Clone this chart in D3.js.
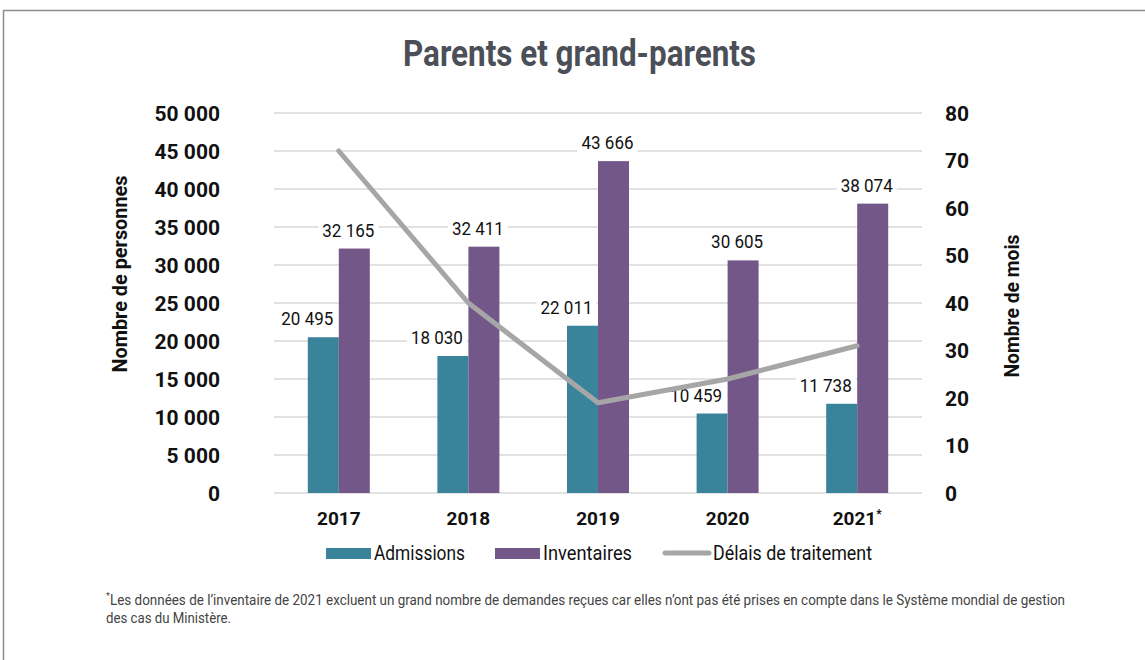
<!DOCTYPE html>
<html>
<head>
<meta charset="utf-8">
<script src="https://cdn.jsdelivr.net/npm/d3@7"></script>
<style>
  body { margin: 0; background: #fff; }
  svg text { font-family: Roboto, "Liberation Sans", sans-serif; }
</style>
</head>
<body>
<div id="chart"></div>
<script>
// Data
var years       = ['2017', '2018', '2019', '2020', '2021'];
var admissions  = [20495, 18030, 22011, 10459, 11738];
var inventaires = [32165, 32411, 43666, 30605, 38074];
var delais      = [72, 40, 19, 24, 31];
var left_ticks  = [0, 5000, 10000, 15000, 20000, 25000, 30000, 35000, 40000, 45000, 50000];
var right_ticks = [0, 10, 20, 30, 40, 50, 60, 70, 80];

var width = 1145, height = 660;
var teal = '#3a849b', purple = '#735789', grey = '#a6a6a6';

var svg = d3.select('#chart')
    .append('svg')
    .attr('width', width)
    .attr('height', height);

// frame
svg.append('rect')
    .attr('x', 3.5).attr('y', 10.5)
    .attr('width', width + 10).attr('height', height + 10)
    .attr('fill', 'none')
    .attr('stroke', '#8c8c8c')
    .attr('stroke-width', 1.5);

svg.append('text')
    .attr('x', 403).attr('y', 66)
    .attr('font-size', 37).attr('font-weight', 'bold')
    .attr('fill', '#4b4f57')
    .attr('textLength', 353).attr('lengthAdjust', 'spacingAndGlyphs')
    .text('Parents et grand-parents');

var x = d3.scaleBand().domain(years).range([274, 922]);
var y = d3.scaleLinear().domain([0, 50000]).range([493, 113]);
var y2 = d3.scaleLinear().domain([0, 80]).range([493, 113]);
var sub = d3.scaleBand().domain(['a', 'i']).range([0, 62]);

var fmt = function(v){ return d3.format(',')(v).replace(/,/g, ' '); };

// gridlines
svg.append('g').selectAll('line')
    .data(left_ticks)
    .enter().append('line')
    .attr('x1', 274).attr('x2', 922)
    .attr('y1', function(d){ return y(d); })
    .attr('y2', function(d){ return y(d); })
    .attr('stroke', '#d9d9d9')
    .attr('stroke-width', 1.5);

// left axis
var left_axis = svg.append('g')
    .attr('transform', 'translate(220,0)')
    .call(d3.axisLeft(y).tickValues(left_ticks).tickSize(0).tickPadding(0).tickFormat(fmt));
left_axis.select('.domain').remove();
left_axis.selectAll('text')
    .attr('font-size', 21).attr('font-weight', 'bold').attr('fill', '#111')
    .attr('font-family', 'Roboto')
    .attr('dy', '0.35em');

// right axis
var right_axis = svg.append('g')
    .attr('transform', 'translate(945,0)')
    .call(d3.axisRight(y2).tickValues(right_ticks).tickSize(0).tickPadding(0));
right_axis.select('.domain').remove();
right_axis.selectAll('text')
    .attr('font-size', 21).attr('font-weight', 'bold').attr('fill', '#111')
    .attr('font-family', 'Roboto')
    .attr('dy', '0.35em');

// axis titles
svg.append('text')
    .attr('transform', 'translate(127,274) rotate(-90)')
    .attr('text-anchor', 'middle')
    .attr('font-size', 21).attr('font-weight', 'bold').attr('fill', '#111')
    .attr('textLength', 197).attr('lengthAdjust', 'spacingAndGlyphs')
    .text('Nombre de personnes');
svg.append('text')
    .attr('transform', 'translate(1019,306) rotate(-90)')
    .attr('text-anchor', 'middle')
    .attr('font-size', 21).attr('font-weight', 'bold').attr('fill', '#111')
    .attr('textLength', 143).attr('lengthAdjust', 'spacingAndGlyphs')
    .text('Nombre de mois');

// bars
var groups = svg.append('g').selectAll('g')
    .data(years)
    .enter().append('g')
    .attr('transform', function(d){ return 'translate(' + (x(d) + x.bandwidth() / 2 - 31) + ',0)'; });

function add_bars(key, values, color) {
    groups.append('rect')
        .attr('x', sub(key))
        .attr('width', sub.bandwidth())
        .attr('y', function(d, i){ return y(values[i]); })
        .attr('height', function(d, i){ return 493 - y(values[i]); })
        .attr('fill', color);
}
add_bars('a', admissions, teal);
add_bars('i', inventaires, purple);

// line
var line = d3.line()
    .x(function(d, i){ return x(years[i]) + x.bandwidth() / 2; })
    .y(function(d){ return y2(d); });
svg.append('path')
    .datum(delais)
    .attr('d', line)
    .attr('fill', 'none')
    .attr('stroke', grey)
    .attr('stroke-width', 5)
    .attr('stroke-linejoin', 'round')
    .attr('stroke-linecap', 'round');

// value labels
function add_labels(key, values, dx) {
    var lab = groups.append('g');
    lab.append('rect')
        .attr('x', sub(key) + sub.bandwidth() / 2 + dx - 30)
        .attr('y', function(d, i){ return y(values[i]) - 30; })
        .attr('width', 60).attr('height', 22)
        .attr('fill', '#fff');
    lab.append('text')
        .attr('x', sub(key) + sub.bandwidth() / 2 + dx)
        .attr('y', function(d, i){ return y(values[i]) - 12; })
        .attr('text-anchor', 'middle')
        .attr('font-size', 18).attr('fill', '#111')
        .attr('textLength', 52).attr('lengthAdjust', 'spacingAndGlyphs')
        .text(function(d, i){ return fmt(values[i]); });
}
add_labels('a', admissions, -16);
add_labels('i', inventaires, -6);

// x labels
var xl = svg.append('g').selectAll('text')
    .data(years)
    .enter().append('text')
    .attr('x', function(d){ return x(d) + x.bandwidth() / 2; })
    .attr('y', 525)
    .attr('text-anchor', 'middle')
    .attr('font-size', 19).attr('font-weight', 'bold').attr('fill', '#111')
    .text(function(d){ return d; });
xl.filter(function(d){ return d === '2021'; })
    .append('tspan')
    .attr('dy', -7).attr('font-size', 12)
    .text('*');

// legend
var legend = [
    { name: 'Admissions', color: teal, type: 'rect', x: 326, w: 91 },
    { name: 'Inventaires', color: purple, type: 'rect', x: 495, w: 89 },
    { name: 'Délais de traitement', color: grey, type: 'line', x: 665, w: 159 }
];
var lg = svg.append('g').selectAll('g')
    .data(legend)
    .enter().append('g')
    .attr('transform', function(d){ return 'translate(' + d.x + ',553)'; });
lg.filter(function(d){ return d.type === 'rect'; })
    .append('rect')
    .attr('x', 0).attr('y', -5).attr('width', 45).attr('height', 11)
    .attr('fill', function(d){ return d.color; });
lg.filter(function(d){ return d.type === 'line'; })
    .append('line')
    .attr('x1', 0).attr('x2', 44).attr('y1', 0).attr('y2', 0)
    .attr('stroke', grey).attr('stroke-width', 5).attr('stroke-linecap', 'round');
lg.append('text')
    .attr('x', 48).attr('y', 7)
    .attr('font-size', 20).attr('fill', '#111')
    .attr('textLength', function(d){ return d.w; }).attr('lengthAdjust', 'spacingAndGlyphs')
    .text(function(d){ return d.name; });

// footnote
svg.append('text')
    .attr('x', 106).attr('y', 599)
    .attr('font-size', 9).attr('fill', '#444')
    .text('*');
svg.append('text')
    .attr('x', 110).attr('y', 605)
    .attr('font-size', 14).attr('fill', '#444')
    .attr('textLength', 955).attr('lengthAdjust', 'spacingAndGlyphs')
    .text('Les données de l\u2019inventaire de 2021 excluent un grand nombre de demandes reçues car elles n\u2019ont pas été prises en compte dans le Système mondial de gestion');
svg.append('text')
    .attr('x', 106).attr('y', 623)
    .attr('font-size', 14).attr('fill', '#444')
    .attr('textLength', 125).attr('lengthAdjust', 'spacingAndGlyphs')
    .text('des cas du Ministère.');
</script>
</body>
</html>
